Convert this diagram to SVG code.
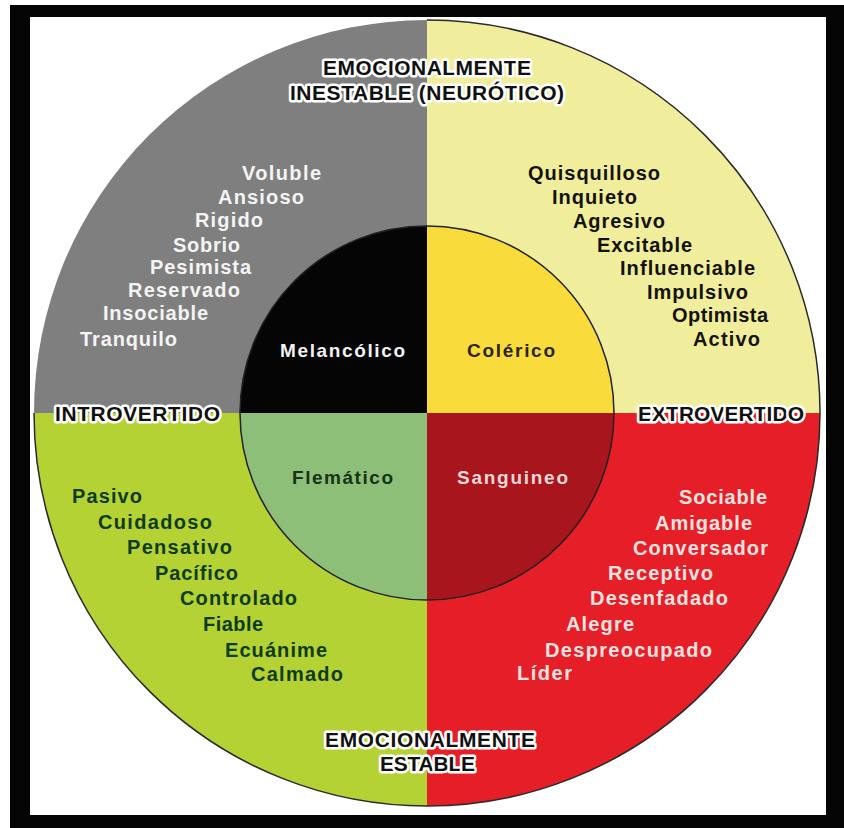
<svg xmlns="http://www.w3.org/2000/svg" width="844" height="828" viewBox="0 0 844 828">
<style>
text{font-family:"Liberation Sans",Arial,sans-serif;font-weight:bold}
.w{font-size:20px}
.gray{fill:#f4f4f4}
.yel{fill:#141208}
.grn{fill:#0f3b10}
.red{fill:#fbe4e0}
.in{font-size:19px}
.lab{font-size:21px;fill:#111;stroke:#fff;stroke-width:5;stroke-linejoin:round;paint-order:stroke}
</style>
<rect x="0" y="0" width="844" height="828" fill="#fff"/>
<rect id="frame" x="10" y="5" width="834" height="823" fill="#050505"/>
<rect x="30" y="17" width="796" height="798" fill="#fff"/>

<g id="outer-ring">
  <path id="q-neurotic-introvert" d="M427,413 L34,413 A393,393 0 0 1 427,20 Z" fill="#7f7f7f"/>
  <path id="q-neurotic-extrovert" d="M427,413 L427,20 A393,393 0 0 1 820,413 Z" fill="#f0ee9c"/>
  <path id="q-stable-extrovert" d="M427,413 L820,413 A393,393 0 0 1 427,806 Z" fill="#e61e27"/>
  <path id="q-stable-introvert" d="M427,413 L427,806 A393,393 0 0 1 34,413 Z" fill="#b4d234"/>
  <path d="M427,20 A393,393 0 1 1 34,413" fill="none" stroke="#2a2a2a" stroke-width="1.5"/>
</g>

<g id="inner-circle">
  <path id="melancolico" d="M427,413 L240,413 A187,187 0 0 1 427,226 Z" fill="#050505"/>
  <path id="colerico" d="M427,413 L427,226 A187,187 0 0 1 614,413 Z" fill="#f9dc3c"/>
  <path id="sanguineo" d="M427,413 L614,413 A187,187 0 0 1 427,600 Z" fill="#a9151d"/>
  <path id="flematico" d="M427,413 L427,600 A187,187 0 0 1 240,413 Z" fill="#8dbf78"/>
  <circle cx="427" cy="413" r="187" fill="none" stroke="#222" stroke-width="1.5"/>
  <text class="in" x="280" y="357" textLength="125" fill="#f2f2f2">Melancólico</text>
  <text class="in" x="467" y="357" textLength="88" fill="#2a2410">Colérico</text>
  <text class="in" x="292" y="484" textLength="101" fill="#163316">Flemático</text>
  <text class="in" x="457" y="484" textLength="111" fill="#f6d8d6">Sanguineo</text>
</g>

<g id="words-gray" class="w gray">
  <text x="242" y="180" textLength="79">Voluble</text>
  <text x="218" y="204" textLength="86">Ansioso</text>
  <text x="195" y="227" textLength="68">Rigido</text>
  <text x="173" y="252" textLength="67">Sobrio</text>
  <text x="150" y="274" textLength="101">Pesimista</text>
  <text x="128" y="297" textLength="112">Reservado</text>
  <text x="103" y="320" textLength="105">Insociable</text>
  <text x="80" y="346" textLength="97">Tranquilo</text>
</g>

<g id="words-yellow" class="w yel">
  <text x="528" y="180" textLength="132">Quisquilloso</text>
  <text x="552" y="204" textLength="85">Inquieto</text>
  <text x="573" y="228" textLength="92">Agresivo</text>
  <text x="597" y="252" textLength="95">Excitable</text>
  <text x="620" y="275" textLength="135">Influenciable</text>
  <text x="647" y="299" textLength="101">Impulsivo</text>
  <text x="672" y="322" textLength="96">Optimista</text>
  <text x="693" y="346" textLength="67">Activo</text>
</g>

<g id="words-green" class="w grn">
  <text x="72" y="503" textLength="70">Pasivo</text>
  <text x="98" y="529" textLength="114">Cuidadoso</text>
  <text x="127" y="554" textLength="105">Pensativo</text>
  <text x="155" y="580" textLength="83">Pacífico</text>
  <text x="180" y="605" textLength="117">Controlado</text>
  <text x="203" y="631" textLength="60">Fiable</text>
  <text x="225" y="657" textLength="102">Ecuánime</text>
  <text x="251" y="681" textLength="92">Calmado</text>
</g>

<g id="words-red" class="w red">
  <text x="679" y="504" textLength="88">Sociable</text>
  <text x="655" y="530" textLength="97">Amigable</text>
  <text x="633" y="555" textLength="135">Conversador</text>
  <text x="608" y="580" textLength="105">Receptivo</text>
  <text x="590" y="605" textLength="138">Desenfadado</text>
  <text x="566" y="631" textLength="68">Alegre</text>
  <text x="545" y="657" textLength="167">Despreocupado</text>
  <text x="517" y="680" textLength="55">Líder</text>
</g>

<g id="axis-labels" class="lab">
  <text x="323" y="75" textLength="208">EMOCIONALMENTE</text>
  <text x="290" y="100" textLength="274">INESTABLE (NEURÓTICO)</text>
  <text x="55" y="421" textLength="165">INTROVERTIDO</text>
  <text x="638" y="421" textLength="166">EXTROVERTIDO</text>
  <text x="325" y="747" textLength="210">EMOCIONALMENTE</text>
  <text x="380" y="771" textLength="95">ESTABLE</text>
</g>
</svg>
